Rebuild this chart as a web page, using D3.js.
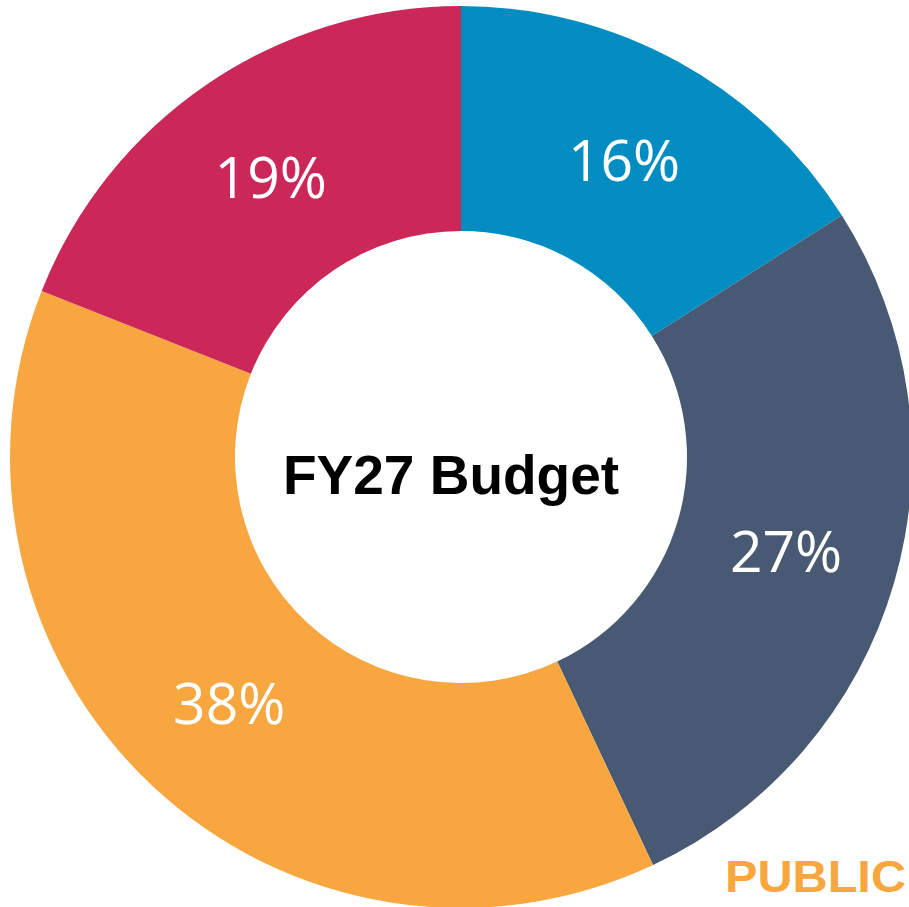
<!DOCTYPE html>
<html>
<head>
<meta charset="utf-8">
<script src="https://cdn.jsdelivr.net/npm/d3@7"></script>
<style>
  html, body { margin: 0; padding: 0; background: #ffffff; overflow: hidden; }
</style>
</head>
<body>
<div id="chartId"></div>
<script>

// budget shares, clockwise from 12 o'clock
const CATEGORIES = ["Blue", "Slate", "Orange", "Red"]
const SHARES = [16, 27, 38, 19]
const SLICE_COLORS = ["#028dc2", "#485a73", "#f8a640", "#cc2759"]
const CENTER_TITLE = "FY27 Budget"
const CORNER_TAG = "PUBLIC"

const WIDTH = 909
const HEIGHT = 907
const CX = 461
const CY = 457
const OUTER_R = 451
const INNER_R = 226

let svg = d3.select("div#chartId")
    .append("svg")
    .attr("width", WIDTH)
    .attr("height", HEIGHT)
    .attr("viewBox", "0 0 " + WIDTH + " " + HEIGHT)

let slices = CATEGORIES.map((c, i) => ({name: c, value: SHARES[i], color: SLICE_COLORS[i]}))

let pie = d3.pie()
    .sort(null)
    .value(d => d.value)

let arc = d3.arc()
    .innerRadius(INNER_R)
    .outerRadius(OUTER_R)

let donut = svg.append("g")
    .attr("transform", "translate(" + CX + "," + CY + ")")

let arcs = pie(slices)

donut.selectAll("path.slice")
    .data(arcs)
    .join("path")
    .attr("class", "slice")
    .attr("d", arc)
    .attr("fill", d => d.data.color)

// percent labels sit on the middle of the ring
donut.selectAll("text.pct")
    .data(arcs)
    .join("text")
    .attr("class", "pct")
    .attr("transform", d => "translate(" + arc.centroid(d) + ")")
    .attr("text-anchor", "middle")
    .attr("dy", "0.36em")
    .attr("fill", "#ffffff")
    .style("font-family", "'Open Sans', 'Noto Sans', sans-serif")
    .style("font-weight", 400)
    .style("font-size", "57px")
    .text(d => d.data.value + "%")

donut.append("text")
    .attr("x", -10)
    .attr("y", 37)
    .attr("text-anchor", "middle")
    .attr("fill", "#000000")
    .style("font-family", "'Liberation Sans', Arial, sans-serif")
    .style("font-weight", "bold")
    .style("font-size", "55px")
    .text(CENTER_TITLE)

// the tag is wide and runs right up to the page edge
svg.append("text")
    .attr("x", 725)
    .attr("y", 892)
    .attr("fill", "#f8a63e")
    .attr("textLength", 181)
    .attr("lengthAdjust", "spacingAndGlyphs")
    .style("font-family", "'Liberation Sans', Arial, sans-serif")
    .style("font-weight", "bold")
    .style("font-size", "45px")
    .text(CORNER_TAG)

</script>
</body>
</html>
